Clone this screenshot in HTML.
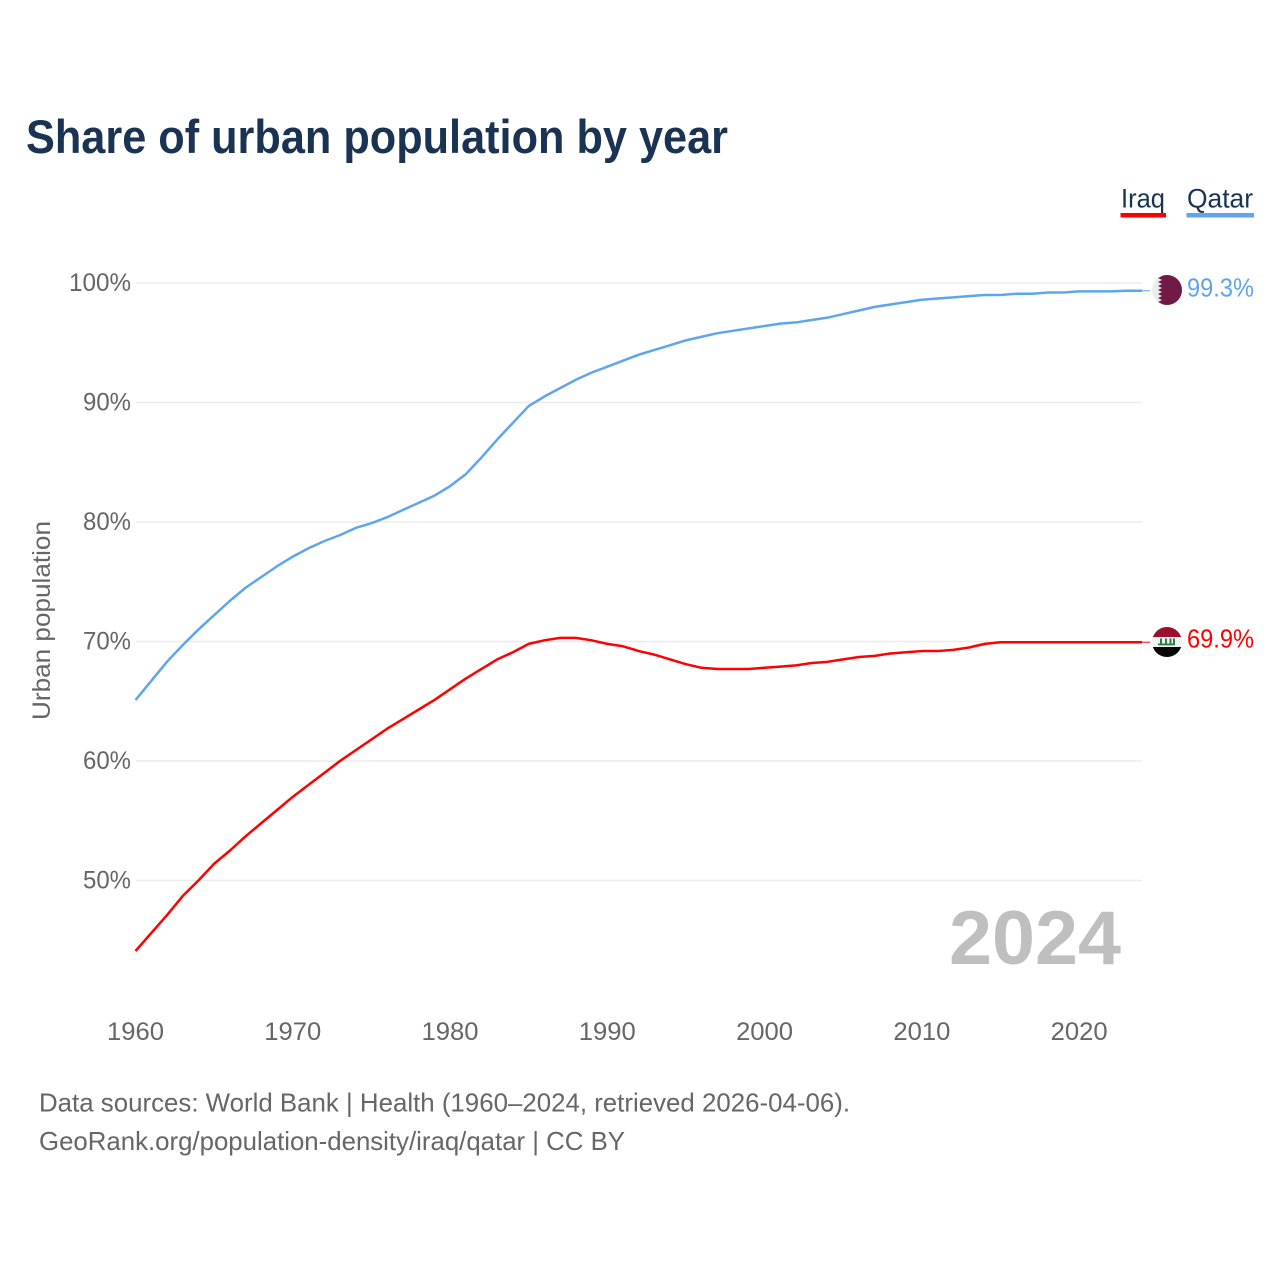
<!DOCTYPE html>
<html lang="en">
<head>
<meta charset="utf-8">
<title>Share of urban population by year</title>
<style>
html,body{margin:0;padding:0;background:#fff;width:1280px;height:1280px;overflow:hidden}
svg{display:block}
text{font-family:"Liberation Sans",sans-serif}
</style>
</head>
<body>
<svg id="chart" xmlns="http://www.w3.org/2000/svg" width="1280" height="1280" viewBox="0 0 1280 1280">
  <rect width="1280" height="1280" fill="#fff"/>
  <text x="26" y="153" font-size="47" font-weight="700" fill="#1b3353" textLength="702" lengthAdjust="spacingAndGlyphs">Share of urban population by year</text>

  <g>
    <g>
      <text x="1121" y="207.500" font-size="27" fill="#1b3353" textLength="44" lengthAdjust="spacingAndGlyphs">Iraq</text>
      <rect x="1120.500" y="213" width="45.500" height="4.500" fill="#ff0000"/>
    </g>
    <g>
      <text x="1187" y="207.500" font-size="27" fill="#1b3353" textLength="66" lengthAdjust="spacingAndGlyphs">Qatar</text>
      <rect x="1186.500" y="213" width="67.500" height="4.500" fill="#5ea5ec"/>
    </g>
  </g>

  <g id="grid"></g>
  <g id="yTicks"></g>
  <g id="xTicks"></g>
  <text transform="translate(50,720) rotate(-90)" font-size="25" fill="#666" textLength="199" lengthAdjust="spacingAndGlyphs">Urban population</text>

  <text x="949" y="964" font-size="76" font-weight="700" fill="#bfbfbf" textLength="172" lengthAdjust="spacingAndGlyphs">2024</text>

  <g id="series"></g>

  <g>
    <clipPath id="clipQ"><circle cx="1167" cy="290" r="15"/></clipPath>
    <g clip-path="url(#clipQ)">
      <rect x="1150" y="273" width="34" height="34" fill="#ececec"/>
      <polygon fill="#721a46" points="1183,274 1159,274 1162,276 1158,278 1162,280 1158,282 1162,284 1158,286 1162,288 1158,290 1162,292 1158,294 1162,296 1158,298 1162,300 1158,302 1162,304 1159,306 1183,306"/>
    </g>
  </g>
  <g>
    <clipPath id="clipI"><circle cx="1167" cy="642" r="15"/></clipPath>
    <g clip-path="url(#clipI)">
      <rect x="1150" y="626" width="34" height="11" fill="#9b0f2e"/>
      <rect x="1150" y="637" width="34" height="10" fill="#f1f1f1"/>
      <rect x="1150" y="647" width="34" height="11" fill="#050505"/>
      <rect x="1158" y="643.500" width="17" height="1.800" fill="#2f7a45"/>
      <rect x="1160" y="638.500" width="2" height="6" fill="#2f7a45"/>
      <rect x="1165" y="638.500" width="2" height="6" fill="#2f7a45"/>
      <rect x="1169.500" y="638.500" width="2" height="6" fill="#2f7a45"/>
      <rect x="1173" y="638.500" width="2" height="6" fill="#2f7a45"/>
    </g>
  </g>

  <text id="labelQatar" x="1187" y="296.500" font-size="26" fill="#5ea5ec" textLength="67" lengthAdjust="spacingAndGlyphs">99.3%</text>
  <text id="labelIraq" x="1187" y="647.500" font-size="26" fill="#ff0000" textLength="67" lengthAdjust="spacingAndGlyphs">69.9%</text>

  <g>
    <text x="39" y="1111.500" font-size="26" fill="#666" textLength="811" lengthAdjust="spacingAndGlyphs">Data sources: World Bank | Health (1960–2024, retrieved 2026-04-06).</text>
    <text x="39" y="1150" font-size="26" fill="#666" textLength="586" lengthAdjust="spacingAndGlyphs">GeoRank.org/population-density/iraq/qatar | CC BY</text>
  </g>
</svg>
<script>
const years = [1960,1961,1962,1963,1964,1965,1966,1967,1968,1969,1970,1971,1972,1973,1974,1975,1976,1977,1978,1979,1980,1981,1982,1983,1984,1985,1986,1987,1988,1989,1990,1991,1992,1993,1994,1995,1996,1997,1998,1999,2000,2001,2002,2003,2004,2005,2006,2007,2008,2009,2010,2011,2012,2013,2014,2015,2016,2017,2018,2019,2020,2021,2022,2023,2024];
const qatarValues = [65.1,66.7,68.3,69.7,71.0,72.2,73.4,74.5,75.4,76.3,77.1,77.8,78.4,78.9,79.5,79.9,80.4,81.0,81.6,82.2,83.0,84.0,85.4,86.9,88.3,89.7,90.5,91.2,91.9,92.5,93.0,93.5,94.0,94.4,94.8,95.2,95.5,95.8,96.0,96.2,96.4,96.6,96.7,96.9,97.1,97.4,97.7,98.0,98.2,98.4,98.6,98.7,98.8,98.9,99.0,99.0,99.1,99.1,99.2,99.2,99.3,99.3,99.3,99.35,99.35];
const iraqValues = [44.1,45.6,47.1,48.7,50.0,51.4,52.5,53.7,54.8,55.9,57.0,58.0,59.0,60.0,60.9,61.8,62.7,63.5,64.3,65.1,66.0,66.9,67.7,68.5,69.1,69.8,70.1,70.3,70.3,70.1,69.8,69.6,69.2,68.9,68.5,68.1,67.8,67.7,67.7,67.7,67.8,67.9,68.0,68.2,68.3,68.5,68.7,68.8,69.0,69.1,69.2,69.2,69.3,69.5,69.8,69.94,69.94,69.94,69.94,69.94,69.94,69.94,69.94,69.94,69.94];
const yTickValues = [50,60,70,80,90,100];
const yTickLabels = ["50%","60%","70%","80%","90%","100%"];
const xTickValues = [1960,1970,1980,1990,2000,2010,2020];
const xTickLabels = ["1960","1970","1980","1990","2000","2010","2020"];

const NS = 'http://www.w3.org/2000/svg';
function xScale(year){ return 135.5 + (year - 1960) * (1142 - 135.5) / 64; }
function yScale(v){ return 283 + (100 - v) * (880.5 - 283) / 50; }
function make(tag, attrs){
  const el = document.createElementNS(NS, tag);
  for (const k in attrs) el.setAttribute(k, attrs[k]);
  return el;
}

const gridG = document.getElementById('grid');
const yG = document.getElementById('yTicks');
yTickValues.forEach(function(v, i){
  const line = make('line', {x1:136, x2:1142, y1:yScale(v), y2:yScale(v), stroke:'#ececec', 'stroke-width':1.5});
  
  
  gridG.appendChild(line);
  const label = make('text', {x:131, y:yScale(v)+8, 'text-anchor':'end', 'font-size':25, fill:'#666'});
  
  
  label.setAttribute('textLength', yTickLabels[i].length === 4 ? 62 : 48);
  label.setAttribute('lengthAdjust', 'spacingAndGlyphs');
  label.textContent = yTickLabels[i];
  yG.appendChild(label);
});

const xG = document.getElementById('xTicks');
xTickValues.forEach(function(v, i){
  const label = make('text', {x:xScale(v), y:1040, 'text-anchor':'middle', 'font-size':25, fill:'#666'});
  
  
  label.setAttribute('textLength', 57);
  label.setAttribute('lengthAdjust', 'spacingAndGlyphs');
  label.textContent = xTickLabels[i];
  xG.appendChild(label);
});

function pathFor(values){
  return values.map(function(v, i){
    return (i ? 'L' : 'M') + xScale(years[i]).toFixed(2) + ' ' + yScale(v).toFixed(2);
  }).join(' ');
}

const seriesG = document.getElementById('series');

const qatarLine = make('path', {d:pathFor(qatarValues), fill:'none', stroke:'#5ea5ec', 'stroke-width':2.5, 'stroke-linejoin':'round'});


seriesG.appendChild(qatarLine);

const iraqLine = make('path', {d:pathFor(iraqValues), fill:'none', stroke:'#ff0000', 'stroke-width':2.5, 'stroke-linejoin':'round'});


seriesG.appendChild(iraqLine);

const lastQ = qatarValues[qatarValues.length - 1];
const connectorQ = make('line', {x1:xScale(2024), x2:1150, y1:yScale(lastQ), y2:yScale(lastQ), stroke:'#5ea5ec', 'stroke-width':1});


seriesG.appendChild(connectorQ);

const lastI = iraqValues[iraqValues.length - 1];
const connectorI = make('line', {x1:xScale(2024), x2:1150, y1:yScale(lastI), y2:yScale(lastI), stroke:'#ff0000', 'stroke-width':1});


seriesG.appendChild(connectorI);

document.getElementById('labelQatar').textContent = lastQ.toFixed(1) + '%';
document.getElementById('labelIraq').textContent = lastI.toFixed(1) + '%';
</script>
</body>
</html>
